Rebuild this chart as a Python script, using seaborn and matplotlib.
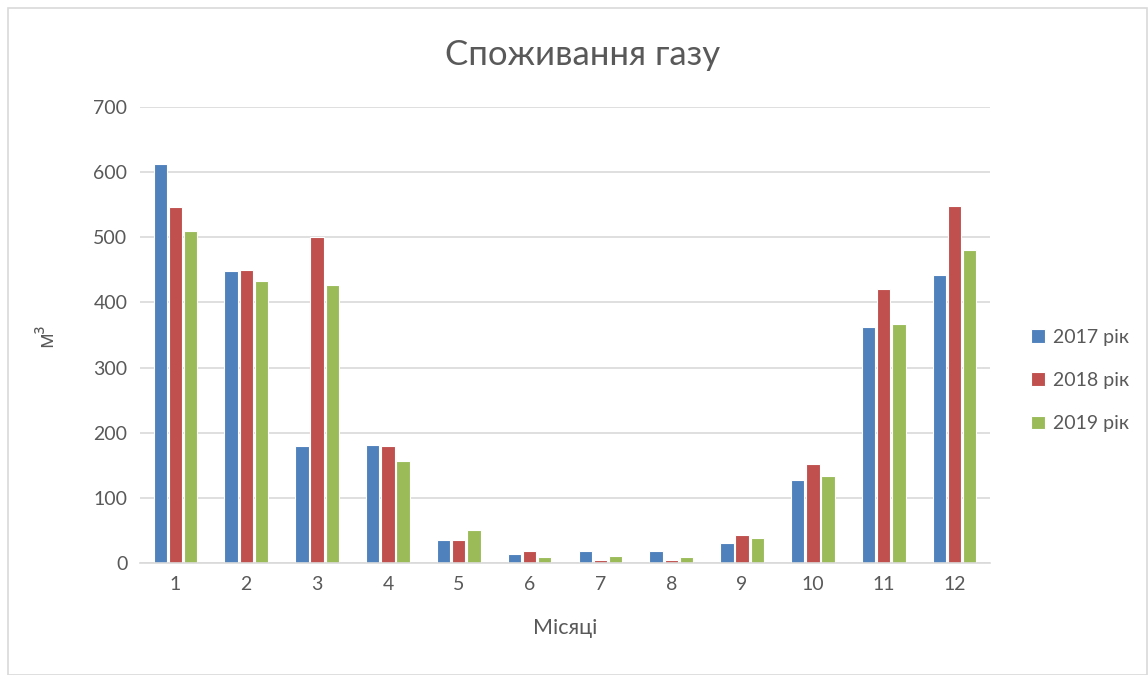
import matplotlib
matplotlib.use("Agg")
import matplotlib.pyplot as plt
import seaborn as sns
import pandas as pd
from matplotlib.patches import Rectangle

months = [1, 2, 3, 4, 5, 6, 7, 8, 9, 10, 11, 12]
series_names = ["2017 рік", "2018 рік", "2019 рік"]
v2017 = [613, 448, 180, 181, 35, 14, 19, 19, 30, 127, 362, 442]
v2018 = [547, 450, 500, 180, 35, 19, 4, 4, 43, 152, 421, 548]
v2019 = [510, 433, 427, 157, 50, 9, 10, 9, 38, 134, 367, 480]
yticks = [0, 100, 200, 300, 400, 500, 600, 700]

df = pd.DataFrame({
    "month": [str(m) for m in months] * 3,
    "value": v2017 + v2018 + v2019,
    "year": [series_names[0]] * 12 + [series_names[1]] * 12 + [series_names[2]] * 12,
})

sns.set_theme(style="white")
plt.rcParams["font.family"] = ["Lato", "DejaVu Sans"]
txt = "#595959"

fig = plt.figure(figsize=(11.48, 6.75), dpi=100)
ax = fig.add_axes([140 / 1148, 1 - 563 / 675, 850 / 1148, 456 / 675])

palette = ["#4F81BD", "#C0504D", "#9BBB59"]
sns.barplot(data=df, x="month", y="value", hue="year", palette=palette,
            width=0.64, gap=0.12, ax=ax, edgecolor="white", linewidth=0.8,
            saturation=1)

ax.set_ylim(0, 700)
ax.set_yticks(yticks)
ax.yaxis.grid(True, color="#D9D9D9", linewidth=1.2)
ax.set_axisbelow(True)
for s in ["top", "right", "left"]:
    ax.spines[s].set_visible(False)
ax.spines["bottom"].set_color("#D9D9D9")
ax.spines["bottom"].set_linewidth(1.2)
ax.tick_params(axis="both", length=0, labelsize=14, colors=txt, pad=9)
ax.set_xlabel("Місяці", fontsize=15.5, color=txt, labelpad=18)
ax.set_ylabel("м³", fontsize=15.5, color=txt, labelpad=26, family=["Open Sans", "DejaVu Sans"])
fig.text(583 / 1148, 1 - 55 / 675, "Споживання газу", fontsize=25, color=txt,
         ha="center", va="center")

leg = ax.legend(loc="center left", bbox_to_anchor=(1.028, 0.4), frameon=False,
                fontsize=14, labelspacing=1.35, handlelength=0.7, handleheight=0.7,
                handletextpad=0.4)
for t in leg.get_texts():
    t.set_color(txt)

fig.patches.append(Rectangle((8 / 1148, 0), 1 - 9 / 1148, 1 - 8 / 675,
                             transform=fig.transFigure, fill=False,
                             edgecolor="#D9D9D9", linewidth=1.2))

fig.savefig("out.png", dpi=100)
